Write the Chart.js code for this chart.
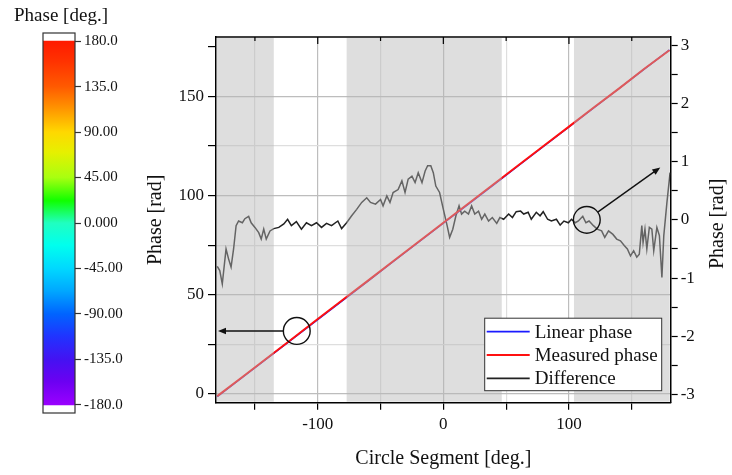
<!DOCTYPE html>
<html>
<head>
<meta charset="utf-8">
<script src="https://cdn.jsdelivr.net/npm/chart.js@4/dist/chart.umd.min.js"></script>
<style>
  html, body { margin: 0; padding: 0; background: #fff; }
  #wrap { position: relative; width: 732px; height: 475px; overflow: hidden; }
  #colorbar { position: absolute; left: 0; top: 0; }
  #phaseChart { position: absolute; left: 140px; top: 0; }
</style>
</head>
<body>
<div id="wrap">
  <canvas id="colorbar" width="140" height="475"></canvas>
  <canvas id="phaseChart" width="592" height="475"></canvas>
</div>
<script>
const FONT = "'Liberation Serif', 'Times New Roman', serif";
const TEXT = '#111';

// --- Data ---

// colour bar (phase in degrees)
const colorbarTicks = [-180, -135, -90, -45, 0, 45, 90, 135, 180];
const colorbarLabels = ['-180.0', '-135.0', '-90.00', '-45.00', '0.000', '45.00', '90.00', '135.0', '180.0'];
// colour map, value -> colour
const colorStopValues = [180, 160, 135, 115, 90, 70, 45, 22, 0, -22, -45, -67, -90, -112, -135, -157, -180];
const colorStopColors = ['#ff1a00', '#ff3200', '#ff5a00', '#ff9000', '#ffd800', '#e6f000', '#a8ff10', '#10ff00',
  '#20ffc0', '#00ffee', '#00d8ff', '#00a8ff', '#0064ff', '#2034ff', '#4412f2', '#6c00f2', '#9a00ff'];

// phase curves (left axis)
const segmentDeg = [-180, -160, -140, -120, -100, -80, -60, -40, -20, 0, 20, 40, 60, 80, 100, 120, 140, 160, 180];
const linearPhase = [-1.5, 8.2, 18.0, 27.7, 37.4, 47.1, 56.8, 66.6, 76.3, 86.0, 95.7, 105.4, 115.2, 124.9, 134.6, 144.3, 154.0, 163.8, 173.5];
const measuredPhase = [-1.2, 8.5, 18.2, 27.9, 37.7, 47.4, 57.1, 66.9, 76.6, 86.3, 96.0, 105.7, 115.4, 125.1, 134.8, 144.6, 154.1, 164.0, 173.3];

// difference (right axis, rad)
const diffDeg = [-180, -178, -176, -173, -171, -169, -167, -165, -163, -160, -158, -155, -153, -150, -147, -145,
  -143, -141, -138, -135, -131, -127, -124, -121, -117, -113, -109, -105, -101, -97, -93, -89, -84, -81, -77,
  -73, -69, -65, -61, -58, -54, -50, -48, -45, -42.5, -40, -36, -33, -30.5, -28, -25, -22.5, -20, -17, -14.5,
  -12.5, -10, -8, -6, -3, 0, 3, 5, 7.5, 10, 12.5, 14.5, 17, 20, 22.5, 25, 28, 30.5, 33, 36, 39, 42.5, 45,
  48, 52, 55, 58, 61.5, 64, 67.5, 70, 74, 77, 79.5, 83, 86, 90, 93, 96, 99.5, 102, 105, 107.5, 111, 113.5,
  116, 119.5, 122.5, 126, 128.5, 131.5, 135, 138, 141, 144, 146.5, 149, 151.5, 154, 156, 158, 159, 160.5,
  162, 164, 166, 167.5, 170, 172, 174, 175.5, 178, 180.5];
const diffRad = [-0.80, -0.87, -1.10, -0.50, -0.67, -0.81, -0.50, -0.10, -0.02, -0.05, 0.02, 0.06, -0.05, -0.13,
  -0.22, -0.33, -0.16, -0.33, -0.19, -0.15, -0.13, -0.07, 0.01, -0.10, -0.03, -0.16, -0.05, -0.10, -0.05, -0.13,
  -0.06, -0.10, -0.02, -0.15, -0.05, 0.07, 0.18, 0.30, 0.38, 0.30, 0.27, 0.35, 0.24, 0.41, 0.30, 0.47, 0.52,
  0.67, 0.47, 0.70, 0.75, 0.64, 0.81, 0.64, 0.84, 0.93, 0.93, 0.81, 0.58, 0.47, 0.18, -0.10, -0.30, -0.16,
  0.07, 0.24, 0.10, 0.15, 0.10, 0.24, 0.10, 0.15, 0.01, 0.10, -0.02, 0.04, -0.06, 0.04, 0.01, 0.10, 0.04,
  0.14, 0.15, 0.10, 0.13, 0.01, 0.13, 0.07, 0.14, 0.01, -0.02, 0.01, -0.09, -0.02, -0.05, 0.01, -0.05, -0.02,
  0.06, -0.05, -0.02, -0.10, -0.16, -0.19, -0.30, -0.19, -0.25, -0.33, -0.36, -0.44, -0.50, -0.62, -0.53,
  -0.64, -0.59, -0.10, -0.39, -0.16, -0.50, -0.13, -0.16, -0.53, -0.13, -0.27, -0.99, -0.27, 0.30, 0.81];

// shaded segments [from, to] in degrees
const shadedBands = [[-181, -135], [-77, 46.5], [104, 181]];

// tick labels
const xLabelTicks = [-100, 0, 100];
const yLabelTicks = [0, 50, 100, 150];
const y2LabelTicks = [-3, -2, -1, 0, 1, 2, 3];

// --- Colour bar ---

const colorbarFrame = {
  id: 'colorbarFrame',
  afterDraw(chart) {
    const { ctx, chartArea: a } = chart;
    ctx.save();
    ctx.strokeStyle = '#333';
    ctx.lineWidth = 1.2;
    ctx.strokeRect(a.left, a.top, a.right - a.left, a.bottom - a.top);
    ctx.fillStyle = TEXT;
    ctx.font = `19px ${FONT}`;
    ctx.textAlign = 'center';
    ctx.textBaseline = 'middle';
    ctx.fillText('Phase [deg.]', 61, 16);
    ctx.restore();
  }
};

new Chart(document.getElementById('colorbar'), {
  type: 'bar',
  data: {
    labels: ['phase'],
    datasets: [{
      data: [[colorbarTicks[0], colorbarTicks[colorbarTicks.length - 1]]],
      backgroundColor: (c) => {
        const chart = c.chart;
        const y = chart.scales.y;
        if (!chart.chartArea || !y) return colorStopColors[0];
        const top = y.getPixelForValue(180), bottom = y.getPixelForValue(-180);
        const g = chart.ctx.createLinearGradient(0, top, 0, bottom);
        colorStopValues.forEach((v, i) => g.addColorStop((180 - v) / 360, colorStopColors[i]));
        return g;
      },
      borderWidth: 0,
      barPercentage: 1,
      categoryPercentage: 1
    }]
  },
  options: {
    responsive: false,
    animation: false,
    events: [],
    layout: { padding: { left: 43, top: 33, bottom: 62, right: 0 } },
    plugins: { legend: { display: false }, tooltip: { enabled: false } },
    scales: {
      x: { display: false },
      y: {
        position: 'right',
        min: -188,
        max: 188,
        afterFit: (s) => { s.width = 65; },
        border: { display: false },
        grid: { drawOnChartArea: false, tickColor: '#333', tickLength: 6, tickWidth: 1.2 },
        ticks: {
          stepSize: 45,
          includeBounds: false,
          padding: 3,
          color: TEXT,
          font: { family: FONT, size: 15 },
          callback: (v) => {
            const i = colorbarTicks.indexOf(v);
            return i >= 0 ? colorbarLabels[i] : '';
          }
        }
      }
    }
  },
  plugins: [colorbarFrame]
});

// --- Main chart ---

function drawArrow(ctx, x0, y0, x1, y1) {
  const ang = Math.atan2(y1 - y0, x1 - x0);
  const len = 8, half = 3.2;
  ctx.beginPath();
  ctx.moveTo(x0, y0);
  ctx.lineTo(x1 - Math.cos(ang) * len * 0.8, y1 - Math.sin(ang) * len * 0.8);
  ctx.stroke();
  ctx.beginPath();
  ctx.moveTo(x1, y1);
  ctx.lineTo(x1 - Math.cos(ang) * len - Math.sin(ang) * half, y1 - Math.sin(ang) * len + Math.cos(ang) * half);
  ctx.lineTo(x1 - Math.cos(ang) * len + Math.sin(ang) * half, y1 - Math.sin(ang) * len - Math.cos(ang) * half);
  ctx.closePath();
  ctx.fill();
}

const phaseDecor = {
  id: 'phaseDecor',
  afterDatasetsDraw(chart) {
    // grey segments lie over the curves, as in the original figure
    const { ctx, chartArea: a, scales: { x } } = chart;
    ctx.save();
    ctx.fillStyle = 'rgba(181,181,181,0.45)';
    shadedBands.forEach(([from, to]) => {
      const x0 = Math.max(x.getPixelForValue(from), a.left + 1);
      const x1 = Math.min(x.getPixelForValue(to), a.right - 1);
      ctx.fillRect(x0, a.top + 1, x1 - x0, a.bottom - a.top - 2);
    });
    ctx.restore();
  },
  afterDraw(chart) {
    const { ctx, chartArea: a, scales: { x, y, y2 } } = chart;
    ctx.save();

    // top frame with inward ticks
    ctx.strokeStyle = '#000';
    ctx.lineWidth = 1.5;
    ctx.beginPath();
    ctx.moveTo(a.left, a.top);
    ctx.lineTo(a.right, a.top);
    ctx.stroke();
    ctx.lineWidth = 1.2;
    x.ticks.forEach(t => {
      const px = x.getPixelForValue(t.value);
      const len = xLabelTicks.includes(t.value) ? 7 : 4;
      ctx.beginPath();
      ctx.moveTo(px, a.top);
      ctx.lineTo(px, a.top + len);
      ctx.stroke();
    });

    // circles + arrows
    ctx.strokeStyle = '#111';
    ctx.fillStyle = '#111';
    ctx.lineWidth = 1.4;
    const r = 13.4;
    const c1x = x.getPixelForValue(-116.7), c1y = y.getPixelForValue(31.7);
    ctx.beginPath();
    ctx.arc(c1x, c1y, r, 0, Math.PI * 2);
    ctx.stroke();
    drawArrow(ctx, c1x - r, c1y, a.left + 2, c1y);

    const c2x = x.getPixelForValue(114.2), c2y = y2.getPixelForValue(0);
    const tx = x.getPixelForValue(172.7), ty = y2.getPixelForValue(0.9);
    ctx.beginPath();
    ctx.arc(c2x, c2y, r, 0, Math.PI * 2);
    ctx.stroke();
    const d = Math.hypot(tx - c2x, ty - c2y);
    drawArrow(ctx, c2x + (tx - c2x) / d * r, c2y + (ty - c2y) / d * r, tx, ty);

    // legend
    const bx = a.right - 186, by = a.bottom - 84.5, bw = 177, bh = 72.5;
    ctx.fillStyle = '#fff';
    ctx.fillRect(bx, by, bw, bh);
    ctx.strokeStyle = '#333';
    ctx.lineWidth = 1;
    ctx.strokeRect(bx, by, bw, bh);
    ctx.font = `19px ${FONT}`;
    ctx.textAlign = 'left';
    ctx.textBaseline = 'middle';
    chart.data.datasets.forEach((ds, i) => {
      const ry = by + 13.5 + i * 23.3;
      ctx.strokeStyle = ds.borderColor;
      ctx.lineWidth = 1.8;
      ctx.beginPath();
      ctx.moveTo(bx + 2, ry);
      ctx.lineTo(bx + 45, ry);
      ctx.stroke();
      ctx.fillStyle = TEXT;
      ctx.fillText(ds.label, bx + 50, ry + 1);
    });

    // right axis title (reads bottom to top)
    ctx.fillStyle = TEXT;
    ctx.font = `20px ${FONT}`;
    ctx.textAlign = 'center';
    ctx.translate(a.right + 47, (a.top + a.bottom) / 2 + 4);
    ctx.rotate(-Math.PI / 2);
    ctx.fillText('Phase [rad]', 0, 0);
    ctx.restore();
  }
};

const gridColor = (labelled) => (c) => {
  if (!c.tick) return 'rgba(0,0,0,0)';
  if (c.tick.value === 175) return 'rgba(0,0,0,0)';
  return labelled.includes(c.tick.value) ? '#bdbdbd' : '#dedede';
};

new Chart(document.getElementById('phaseChart'), {
  type: 'line',
  data: {
    datasets: [{
      label: 'Linear phase',
      data: segmentDeg.map((v, i) => ({ x: v, y: linearPhase[i] })),
      borderColor: '#1a1aff',
      borderWidth: 1.4,
      pointRadius: 0,
      yAxisID: 'y',
      order: 2
    }, {
      label: 'Measured phase',
      data: segmentDeg.map((v, i) => ({ x: v, y: measuredPhase[i] })),
      borderColor: '#ff1010',
      borderWidth: 2,
      pointRadius: 0,
      yAxisID: 'y',
      order: 1
    }, {
      label: 'Difference',
      data: diffDeg.map((v, i) => ({ x: v, y: diffRad[i] })),
      borderColor: '#222',
      borderWidth: 1.5,
      pointRadius: 0,
      tension: 0,
      yAxisID: 'y2',
      order: 3
    }]
  },
  options: {
    responsive: false,
    animation: false,
    events: [],
    layout: { padding: { top: 37, left: 0, right: 0, bottom: 0 } },
    plugins: { legend: { display: false }, tooltip: { enabled: false } },
    scales: {
      x: {
        type: 'linear',
        min: -181,
        max: 181,
        afterFit: (s) => { s.height = 72.3; },
        border: { color: '#000', width: 1.5 },
        grid: { color: gridColor(xLabelTicks), lineWidth: 1.2, tickColor: '#000', tickLength: 7, tickWidth: 1.2 },
        ticks: {
          stepSize: 50,
          includeBounds: false,
          autoSkip: false,
          maxRotation: 0,
          padding: 5,
          color: TEXT,
          font: { family: FONT, size: 17 },
          callback: (v) => xLabelTicks.includes(v) ? String(v) : ''
        },
        title: {
          display: true,
          text: 'Circle Segment [deg.]',
          color: TEXT,
          font: { family: FONT, size: 20 },
          padding: { top: 4, bottom: 4 }
        }
      },
      y: {
        position: 'left',
        min: -4.5,
        max: 180,
        afterFit: (s) => { s.width = 76; },
        border: { color: '#000', width: 1.5 },
        grid: { color: gridColor(yLabelTicks), lineWidth: 1.2, tickColor: '#000', tickLength: 8, tickWidth: 1.2 },
        ticks: {
          stepSize: 25,
          includeBounds: false,
          autoSkip: false,
          padding: 4,
          color: TEXT,
          font: { family: FONT, size: 17 },
          callback: (v) => yLabelTicks.includes(v) ? String(v) : ''
        },
        title: {
          display: true,
          text: 'Phase [rad]',
          color: TEXT,
          font: { family: FONT, size: 20 },
          padding: { top: 4, bottom: 4 }
        }
      },
      y2: {
        position: 'right',
        min: -3.14,
        max: 3.14,
        afterFit: (s) => { s.width = 61.3; },
        border: { color: '#000', width: 1.5 },
        grid: { drawOnChartArea: false, tickColor: '#000', tickLength: 7, tickWidth: 1.2 },
        ticks: {
          stepSize: 0.5,
          includeBounds: false,
          autoSkip: false,
          padding: 3,
          color: TEXT,
          font: { family: FONT, size: 17 },
          callback: (v) => y2LabelTicks.includes(v) ? String(v) : ''
        }
      }
    }
  },
  plugins: [phaseDecor]
});
</script>
</body>
</html>
